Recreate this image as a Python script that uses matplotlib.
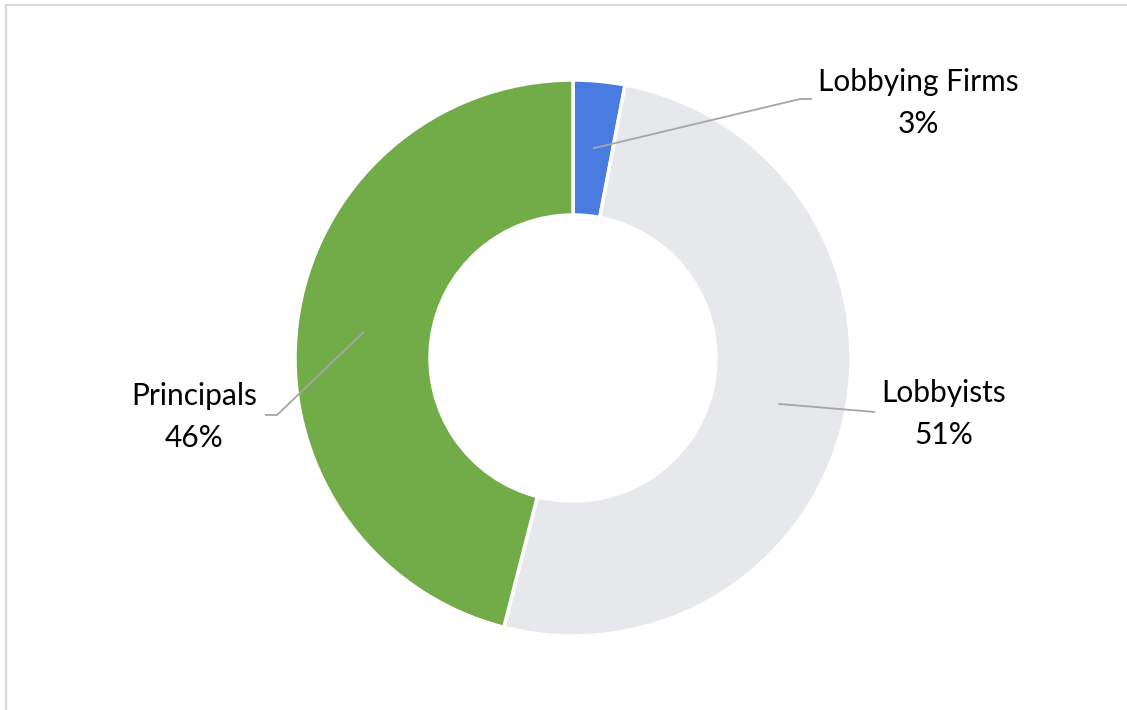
import numpy as np
import matplotlib.pyplot as plt
from matplotlib.lines import Line2D

labels = ["Lobbying Firms", "Lobbyists", "Principals"]
values = [3, 51, 46]
colors = ["#4A7BE0", "#E7E8EC", "#72AC48"]

# label text centres and leader elbow points (pixel layout, y from top)
text_pos = [(918, 103), (944, 414), (194, 417)]
elbow = [(800, 99), (875, 412), (277, 415)]
elbow_end = [(812, 99), (875, 412), (265, 415)]

W, H = 1127, 710
cx, cy = 573, 358
r_out, r_in = 278, 143

fig = plt.figure(figsize=(W / 100, H / 100), dpi=100)
ax = fig.add_axes([0, 0, 1, 1])

wedges, _ = ax.pie(values, colors=colors, startangle=90, counterclock=False,
                   center=(cx, H - cy), radius=r_out,
                   wedgeprops=dict(width=r_out - r_in, edgecolor="white", linewidth=2.5))

total = float(sum(values))
cum = 0.0
r_mid = (r_out + r_in) / 2
for i, (lab, v) in enumerate(zip(labels, values)):
    mid = (cum + v / 2) / total * 2 * np.pi
    cum += v
    ax_x = cx + r_mid * np.sin(mid)
    ax_y = cy - r_mid * np.cos(mid)
    xs = [ax_x, elbow[i][0], elbow_end[i][0]]
    ys = [H - ax_y, H - elbow[i][1], H - elbow_end[i][1]]
    ax.plot(xs, ys, color="#A6A6A6", linewidth=1.3, solid_capstyle="butt", zorder=5)
    tx, ty = text_pos[i]
    ax.text(tx, H - ty, "%s\n%d%%" % (lab, round(v / total * 100)),
            ha="center", va="center", fontsize=21.5, family="Lato",
            linespacing=1.6, color="black")

# fixed pixel-like data space over the whole figure
ax.set_aspect("auto")
ax.set_xlim(0, W)
ax.set_ylim(0, H)
ax.axis("off")

# chart frame (top and left edges visible)
fig.add_artist(Line2D([6 / W, 1], [1 - 4.5 / H] * 2, color="#D9D9D9", linewidth=1.5))
fig.add_artist(Line2D([6 / W] * 2, [0, 1 - 4.5 / H], color="#D9D9D9", linewidth=1.5))

fig.savefig("out.png", dpi=100, facecolor="white")
